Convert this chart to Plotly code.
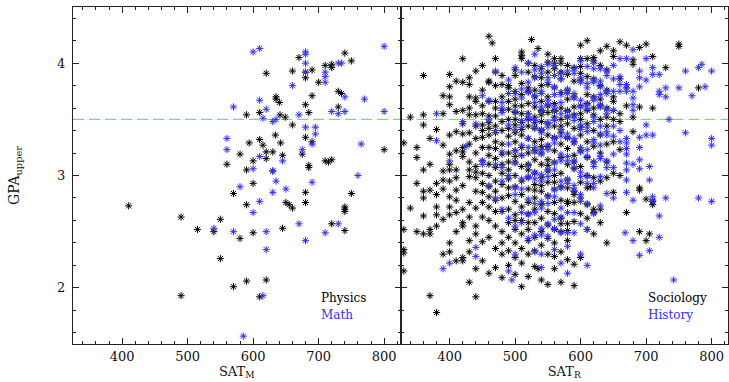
import plotly.graph_objects as go

# ---------------- data ----------------
physics_sat = [740, 670, 750, 710, 720, 720, 620, 660, 690, 680, 680, 700, 730, 735, 690,
               635, 635, 640, 680, 730, 610, 685, 590, 641, 649, 660, 634, 680, 610, 594,
               642, 690, 615, 800, 620, 630, 580, 675, 645, 620, 600, 710, 715, 720, 560,
               685, 685, 590, 630, 600, 570, 680, 750, 410, 590, 650, 655, 660, 680, 740,
               740, 740, 490, 550, 720, 515, 540, 645, 600, 740, 580, 550, 570, 590, 620,
               490, 610]
physics_gpa = [4.09, 4.05, 4.02, 3.98, 3.99, 3.96, 3.91, 3.93, 3.94, 3.92, 3.87, 3.83, 3.75, 3.73, 3.71,
               3.70, 3.68, 3.65, 3.63, 3.61, 3.56, 3.56, 3.54, 3.54, 3.52, 3.45, 3.36, 3.34, 3.32, 3.29,
               3.29, 3.30, 3.27, 3.23, 3.21, 3.21, 3.19, 3.19, 3.18, 3.15, 3.13, 3.13, 3.12, 3.14, 3.10,
               3.09, 3.07, 3.05, 3.04, 2.93, 2.84, 2.85, 2.84, 2.73, 2.74, 2.76, 2.74, 2.71, 2.76, 2.72,
               2.70, 2.68, 2.63, 2.61, 2.57, 2.52, 2.50, 2.53, 2.49, 2.51, 2.44, 2.26, 2.01, 2.06, 2.07,
               1.93, 1.92]

math_sat = [800, 610, 600, 680, 680, 680, 730, 735, 680, 710, 710, 710, 660, 740, 770,
            610, 570, 620, 720, 730, 740, 800, 670, 615, 635, 630, 680, 695, 695, 560,
            690, 765, 560, 675, 610, 645, 600, 630, 760, 635, 690, 580, 650, 630, 610,
            600, 670, 730, 540, 570, 620, 710, 680, 620, 615, 585]
math_gpa = [4.15, 4.13, 4.10, 4.10, 4.08, 4.00, 4.00, 4.00, 3.92, 3.92, 3.88, 3.83, 3.80, 3.70, 3.68,
            3.67, 3.61, 3.59, 3.57, 3.55, 3.57, 3.57, 3.54, 3.51, 3.50, 3.48, 3.43, 3.43, 3.37, 3.33,
            3.28, 3.28, 3.23, 3.23, 3.17, 3.13, 3.06, 3.04, 3.00, 2.95, 2.94, 2.90, 2.88, 2.85, 2.77,
            2.67, 2.57, 2.57, 2.53, 2.50, 2.50, 2.49, 2.42, 2.34, 1.93, 1.57]

# Sociology: SAT_R columns and the GPA values seen in each column
sociology_sat = [330, 340, 350, 360, 370, 380, 390, 400, 410, 420, 430, 440, 450, 460, 465,
                 470, 480, 490, 500, 510, 520, 525, 530, 535, 540, 550, 560, 570, 580, 590,
                 600, 610, 615, 620, 630, 640, 650, 660, 670, 680, 690, 700, 705, 710, 730,
                 750, 780]
sociology_gpa = [
    [3.29, 2.52, 2.34, 2.31, 2.15],
    [2.71, 3.52],
    [3.25, 3.16, 2.50, 2.93],
    [3.89, 3.54, 3.45, 3.05, 2.86, 2.80, 2.64, 2.48],
    [3.10, 2.87, 2.52, 2.48, 1.93, 3.33],
    [2.93, 2.83, 2.72, 2.65, 2.55, 1.78, 3.41],
    [3.55, 3.04, 2.96, 2.88, 2.30, 3.27, 3.71, 2.61],
    [3.79, 3.70, 3.63, 3.19, 3.10, 3.05, 2.81, 2.72, 2.65, 2.40, 2.32, 3.36, 2.95, 3.90],
    [3.57, 3.39, 3.05, 2.98, 2.87, 2.67, 2.50, 2.24, 3.84, 3.22, 2.78],
    [4.04, 3.83, 3.58, 3.37, 3.25, 3.21, 3.17, 2.58, 2.55, 2.27, 2.24, 2.91, 3.46, 2.70],
    [3.87, 3.81, 3.60, 3.54, 3.38, 3.12, 3.05, 2.99, 2.42, 2.32, 2.05, 2.76, 3.28, 2.63, 3.70],
    [3.69, 3.66, 3.54, 3.33, 3.08, 3.03, 2.98, 2.48, 2.17, 1.92, 2.86, 2.71, 3.20, 2.55, 3.44, 3.93],
    [3.98, 3.62, 3.55, 3.45, 3.40, 3.34, 3.02, 2.93, 2.76, 2.24, 2.63, 3.25, 3.76, 2.85, 3.13, 2.41],
    [4.24, 3.84, 3.83, 3.53, 3.47, 3.42, 3.36, 3.25, 3.18, 3.10, 3.00, 2.90, 2.72, 2.60, 2.13, 2.45, 3.66, 2.81],
    [4.18],
    [4.04, 3.80, 3.66, 3.53, 3.44, 3.38, 3.30, 3.24, 3.15, 2.95, 2.86, 2.78, 2.55, 2.35, 2.18, 3.60, 3.07, 2.68, 3.92],
    [3.89, 3.70, 3.48, 3.40, 3.28, 3.10, 2.92, 2.80, 2.68, 2.50, 2.09, 2.30, 3.58, 3.02, 3.19, 2.40, 3.81],
    [3.80, 3.78, 3.59, 3.50, 3.42, 3.35, 3.20, 3.05, 2.97, 2.82, 2.70, 2.58, 2.45, 2.20, 2.33, 3.12, 3.66, 2.89],
    [3.89, 3.68, 3.62, 3.56, 3.50, 3.45, 3.38, 3.30, 3.22, 3.12, 3.00, 2.90, 2.77, 2.65, 2.52, 2.40, 2.27, 2.12, 3.94, 3.75, 3.17, 2.60],
    [4.10, 4.07, 4.04, 3.82, 3.72, 3.55, 3.47, 3.36, 3.25, 3.18, 3.08, 2.95, 2.83, 2.72, 2.60, 2.48, 2.35, 2.22, 3.62, 3.41, 2.01],
    [3.78, 3.75, 3.64, 3.55, 3.44, 3.33, 3.20, 3.10, 2.98, 2.88, 2.76, 2.66, 2.52, 2.42, 2.10, 2.30, 3.92, 4.00, 3.50, 3.05, 2.58],
    [4.21],
    [3.76, 3.70, 3.61, 3.52, 3.42, 3.30, 3.22, 3.14, 3.02, 2.92, 2.80, 2.70, 2.58, 2.45, 2.19, 2.33, 3.88, 3.47, 2.87, 3.98],
    [4.13, 2.17],
    [3.87, 3.80, 3.66, 3.58, 3.48, 3.40, 3.32, 3.20, 3.10, 2.98, 2.86, 2.74, 2.62, 2.50, 2.38, 3.95, 3.54, 3.26, 2.91, 2.07],
    [4.08, 3.92, 3.81, 3.70, 3.56, 3.46, 3.36, 3.26, 3.14, 3.04, 2.94, 2.82, 2.68, 2.56, 2.44, 2.03, 2.30, 4.01, 3.62, 3.09],
    [4.04, 3.95, 3.78, 3.64, 3.52, 3.44, 3.34, 3.22, 3.12, 3.00, 2.88, 2.76, 2.66, 2.52, 2.40, 2.17, 2.28, 4.00, 3.58, 2.94],
    [4.04, 4.00, 3.86, 3.74, 3.60, 3.50, 3.38, 3.28, 3.16, 3.02, 2.90, 2.78, 2.62, 2.57, 2.50, 2.32, 2.05, 3.92, 3.44],
    [3.98, 3.90, 3.76, 3.58, 3.46, 3.34, 3.24, 3.10, 2.96, 2.89, 2.77, 2.75, 2.57, 2.51, 2.42, 2.25, 3.68, 3.52],
    [3.96, 3.84, 3.70, 3.54, 3.42, 3.30, 3.18, 3.06, 2.86, 2.83, 2.76, 2.59, 2.21, 2.02, 3.61, 3.12],
    [4.16, 4.04, 3.97, 3.91, 3.85, 3.62, 3.50, 3.36, 3.22, 3.08, 2.94, 2.80, 2.66, 2.27, 3.55, 3.43],
    [4.20, 4.04, 3.88, 3.72, 3.58, 3.46, 3.30, 3.16, 3.00, 2.89, 2.74, 2.62, 2.52, 3.64],
    [2.90],
    [4.05, 4.02, 3.86, 3.70, 3.54, 3.40, 3.26, 3.12, 2.98, 2.70, 2.67, 2.48, 3.60],
    [4.11, 3.98, 3.80, 3.62, 3.50, 3.36, 3.20, 2.95, 2.70, 2.58, 3.68],
    [4.15, 3.94, 3.76, 3.60, 3.44, 3.28, 3.12, 2.98, 2.40, 3.52],
    [4.11, 4.06, 3.70, 3.66, 3.50, 3.30, 3.02, 2.85, 3.58],
    [4.19, 3.86, 3.55, 3.23, 3.00, 3.48],
    [4.16, 3.62, 2.67, 3.78],
    [4.03, 3.99, 3.39, 3.52],
    [4.14, 3.61, 2.89, 2.87, 2.50],
    [4.17, 2.79, 2.42],
    [2.48],
    [4.06, 3.60, 2.77, 2.74],
    [3.96],
    [4.17, 4.15],
    [3.78],
]

# History: SAT_R columns and the GPA values seen in each column
history_sat = [380, 390, 400, 420, 425, 440, 450, 460, 470, 480, 490, 495, 500, 510, 520,
               530, 540, 550, 560, 570, 580, 590, 600, 610, 620, 630, 640, 650, 660, 668,
               670, 680, 690, 700, 705, 710, 720, 730, 735, 742, 750, 760, 770, 780, 785,
               790, 800]
history_gpa = [
    [3.55, 3.31],
    [2.17],
    [3.13, 2.22],
    [3.48],
    [3.26],
    [3.46, 2.36, 2.28],
    [3.13, 3.10, 3.71],
    [3.67, 3.50, 2.91],
    [3.93, 3.40, 3.10, 2.80],
    [3.65, 3.60, 3.56, 3.21, 3.07, 2.95, 2.70],
    [3.73, 3.85, 3.45, 3.28, 3.00, 2.62, 2.15],
    [2.07],
    [3.73, 3.96, 3.57, 3.41, 3.22, 3.11, 2.89, 2.83, 2.55, 2.30],
    [3.92, 3.77, 3.69, 3.49, 3.43, 3.27, 3.18, 2.97, 2.88, 2.67, 2.58],
    [4.00, 3.83, 3.74, 3.55, 3.51, 3.33, 3.25, 3.09, 2.99, 2.79, 2.65, 2.44],
    [4.08, 3.94, 3.87, 3.71, 3.65, 3.49, 3.43, 3.25, 3.21, 3.03, 2.97, 2.75, 2.67, 2.47, 2.32],
    [3.97, 3.91, 3.75, 3.73, 3.61, 3.57, 3.41, 3.38, 3.23, 3.19, 3.01, 2.95, 2.77, 2.71, 2.53, 2.47, 2.30, 2.18],
    [3.99, 3.87, 3.83, 3.67, 3.63, 3.47, 3.43, 3.27, 3.23, 3.05, 2.99, 2.81, 2.75, 2.57, 2.46],
    [3.72, 3.98, 3.89, 3.79, 3.61, 3.57, 3.49, 3.33, 3.29, 3.11, 3.05, 2.87, 2.81, 2.61, 2.53, 2.34],
    [3.72, 3.91, 3.86, 3.65, 3.55, 3.41, 3.35, 3.19, 3.13, 2.95, 2.89, 2.71, 2.63, 2.49, 2.22],
    [3.93, 3.77, 3.73, 3.57, 3.53, 3.37, 3.33, 3.17, 3.13, 2.97, 2.93, 2.67, 2.49, 2.37, 2.13],
    [3.95, 3.91, 3.73, 3.69, 3.53, 3.49, 3.33, 3.29, 3.13, 3.07, 2.91, 2.87, 2.67, 2.49],
    [4.02, 3.87, 3.83, 3.67, 3.61, 3.45, 3.41, 3.25, 3.21, 3.03, 2.99, 2.83, 2.77, 2.57, 2.30],
    [3.97, 3.82, 3.78, 3.63, 3.59, 3.43, 3.39, 3.23, 3.17, 2.99, 2.93, 2.75, 2.52, 2.20],
    [4.00, 3.95, 3.85, 3.83, 3.69, 3.67, 3.52, 3.48, 3.32, 3.29, 3.12, 3.08, 2.93, 2.89, 2.66],
    [3.95, 3.84, 3.79, 3.72, 3.63, 3.61, 3.44, 3.37, 3.27, 3.17, 3.15, 2.99, 2.73],
    [3.93, 3.89, 3.75, 3.73, 3.59, 3.55, 3.39, 3.36, 3.13, 3.07, 2.84],
    [3.98, 3.86, 3.75, 3.58, 3.44, 3.35, 3.19, 3.07, 2.80],
    [4.04, 3.88, 3.81, 3.75, 3.40, 3.30],
    [2.49],
    [4.04, 3.81, 3.75, 3.33, 3.29, 3.24, 3.19, 3.11, 3.05, 2.96, 2.85],
    [4.12, 3.75, 3.69, 3.63, 3.58, 3.10, 2.78, 2.42],
    [3.93, 3.87, 3.79, 3.34, 3.25, 3.14, 3.06, 2.29],
    [4.04, 3.85, 3.45, 3.36],
    [3.08, 2.96, 2.33],
    [3.96, 3.90, 3.36, 2.81, 2.78],
    [3.90, 3.75, 3.72, 2.64, 2.45],
    [3.78, 3.70, 2.80],
    [3.50],
    [2.07],
    [3.78],
    [3.93, 3.38],
    [3.71],
    [3.96, 2.80],
    [3.99],
    [3.79],
    [3.93, 3.33, 3.27, 2.77],
]

threshold_gpa = 3.5
x_ticks = [400, 500, 600, 700, 800]
y_ticks = [2, 3, 4]


def expand(cols, gpas):
    xs, ys = [], []
    for c, g in zip(cols, gpas):
        xs += [c] * len(g)
        ys += g
    return xs, ys


soc_x, soc_y = expand(sociology_sat, sociology_gpa)
his_x, his_y = expand(history_sat, history_gpa)

BLACK = "#000000"
BLUE = "#2f2fff"
FONT = "DejaVu Serif"


def star(color):
    return dict(symbol="asterisk-open", size=6, color=color,
                line=dict(width=1, color=color))


fig = go.Figure()
fig.add_trace(go.Scatter(x=physics_sat, y=physics_gpa, mode="markers",
                         marker=star(BLACK), xaxis="x", yaxis="y", showlegend=False))
fig.add_trace(go.Scatter(x=math_sat, y=math_gpa, mode="markers",
                         marker=star(BLUE), xaxis="x", yaxis="y", showlegend=False))
fig.add_trace(go.Scatter(x=soc_x, y=soc_y, mode="markers",
                         marker=star(BLACK), xaxis="x2", yaxis="y2", showlegend=False))
fig.add_trace(go.Scatter(x=his_x, y=his_y, mode="markers",
                         marker=star(BLUE), xaxis="x2", yaxis="y2", showlegend=False))

axis_common = dict(
    showline=True, linecolor="#222", linewidth=1, mirror="ticks",
    ticks="inside", ticklen=6, tickwidth=1, tickcolor="#222",
    showgrid=False, zeroline=False,
    tickfont=dict(family=FONT, size=13, color="#111"),
)
minor_x = dict(ticks="inside", ticklen=3, tickwidth=1, tickcolor="#222", dtick=20, showgrid=False)
minor_y = dict(ticks="inside", ticklen=3, tickwidth=1, tickcolor="#222", dtick=0.2, showgrid=False)

fig.update_layout(
    width=729, height=382,
    margin=dict(l=73, r=1, t=7, b=38),
    paper_bgcolor="white", plot_bgcolor="white",
    font=dict(family=FONT, size=13, color="#111"),
    xaxis=dict(domain=[0, 0.5], range=[325, 825], tickvals=x_ticks, anchor="y",
               minor=minor_x,
               title=dict(text="SAT<sub>M</sub>", font=dict(family=FONT, size=13), standoff=2),
               **axis_common),
    xaxis2=dict(domain=[0.5, 1], range=[325, 825], tickvals=x_ticks, anchor="y2",
                minor=minor_x,
                title=dict(text="SAT<sub>R</sub>", font=dict(family=FONT, size=13), standoff=2),
                **axis_common),
    yaxis=dict(domain=[0, 1], range=[1.5, 4.5], tickvals=y_ticks, anchor="x",
               minor=minor_y, ticklabelstandoff=4,
               title=dict(text="GPA<sub>upper</sub>", font=dict(family=FONT, size=14), standoff=34),
               **axis_common),
    yaxis2=dict(domain=[0, 1], range=[1.5, 4.5], tickvals=y_ticks, anchor="x2",
                minor=minor_y, showticklabels=False, **axis_common),
    shapes=[
        dict(type="line", xref="x domain", yref="y", x0=0, x1=1, y0=threshold_gpa, y1=threshold_gpa,
             line=dict(color="#5ad85a", width=1, dash="11px,5px"), layer="below"),
        dict(type="line", xref="x2 domain", yref="y2", x0=0, x1=1, y0=threshold_gpa, y1=threshold_gpa,
             line=dict(color="#5ad85a", width=1, dash="11px,5px"), layer="below"),
    ],
    annotations=[
        dict(x=700, y=1.91, xref="x", yref="y", text="Physics", showarrow=False,
             xanchor="left", yanchor="middle", font=dict(family=FONT, size=12, color=BLACK)),
        dict(x=700, y=1.755, xref="x", yref="y", text="Math", showarrow=False,
             xanchor="left", yanchor="middle", font=dict(family=FONT, size=12, color=BLUE)),
        dict(x=700, y=1.91, xref="x2", yref="y2", text="Sociology", showarrow=False,
             xanchor="left", yanchor="middle", font=dict(family=FONT, size=12, color=BLACK)),
        dict(x=700, y=1.755, xref="x2", yref="y2", text="History", showarrow=False,
             xanchor="left", yanchor="middle", font=dict(family=FONT, size=12, color=BLUE)),
    ],
)

fig.write_html(
    "out.html",
    config={"displayModeBar": False},
    post_script="document.body.style.margin='0';document.body.style.overflow='hidden';",
)
